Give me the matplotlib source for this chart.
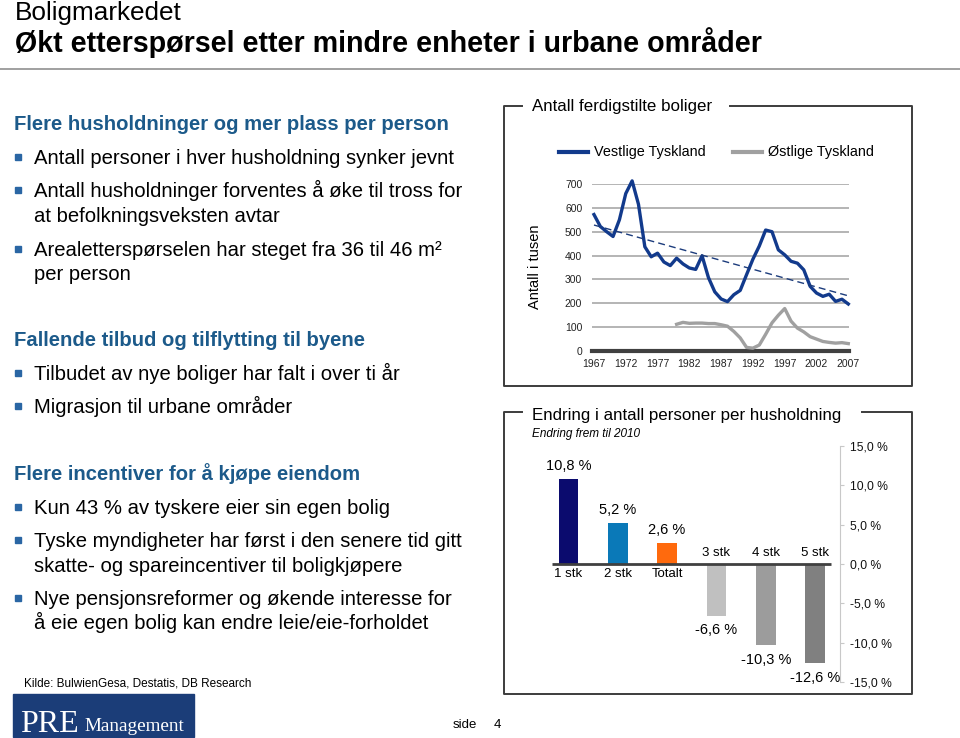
import numpy as np
import matplotlib
matplotlib.use("Agg")
import matplotlib.pyplot as plt
from matplotlib.patches import Rectangle


plt.rcParams["font.family"] = ["Liberation Sans", "DejaVu Sans"]

W, H = 960, 738

# Antall ferdigstilte boliger (i tusen)
years = list(range(1967, 2008))
vest = [572, 522, 500, 480, 550, 660, 713, 615, 437, 395,
        410, 373, 358, 389, 365, 348, 342, 399, 308, 248,
        218, 207, 236, 254, 320, 385, 440, 507, 500, 424,
        403, 376, 368, 340, 271, 243, 229, 238, 208, 217, 197]
ost_years = list(range(1980, 2008))
ost = [112, 120, 116, 117, 117, 115, 115, 110, 104, 82,
       55, 15, 12, 25, 70, 118, 150, 178, 125, 96,
       80, 60, 50, 40, 36, 33, 35, 31]
year_ticks = list(range(1967, 2008, 5))
y_ticks = list(range(0, 701, 100))

# Endring i antall personer per husholdning
hh_labels = ["1 stk", "2 stk", "Totalt", "3 stk", "4 stk", "5 stk"]
hh_change = [10.8, 5.2, 2.6, -6.6, -10.3, -12.6]
pct_ticks = [-15, -10, -5, 0, 5, 10, 15]

HEAD_BLUE = "#1c5a8a"
BULLET_BLUE = "#2a66a4"
FRAME = "#3c3c3c"
bar_colors = ["#0b0b6e", "#0a79b8", "#ff6a0d", "#c0c0c0", "#9c9c9c", "#808080"]


def frac(x0, y0, x1, y1):
    # pixel box (top-left origin) -> figure fraction rect
    return [x0 / W, 1 - y1 / H, (x1 - x0) / W, (y1 - y0) / H]


fig = plt.figure(figsize=(W / 100, H / 100), dpi=100)
bg = fig.add_axes([0, 0, 1, 1])
bg.set_xlim(0, W)
bg.set_ylim(H, 0)
bg.axis("off")

# header
bg.text(15, 20, "Boligmarkedet", fontsize=18.8, va="baseline")
bg.text(15, 52, "Økt etterspørsel etter mindre enheter i urbane områder",
        fontsize=20.6, fontweight="bold", va="baseline")
bg.plot([0, W], [69, 69], color="#909090", lw=1.2)

# left text column
left_text = [
    ("h", 130.5, "Flere husholdninger og mer plass per person"),
    ("b", 164, "Antall personer i hver husholdning synker jevnt"),
    ("b", 197, "Antall husholdninger forventes å øke til tross for"),
    ("c", 221.5, "at befolkningsveksten avtar"),
    ("b", 256, "Arealetterspørselen har steget fra 36 til 46 m²"),
    ("c", 280, "per person"),
    ("h", 346.5, "Fallende tilbud og tilflytting til byene"),
    ("b", 380, "Tilbudet av nye boliger har falt i over ti år"),
    ("b", 413, "Migrasjon til urbane områder"),
    ("h", 480.5, "Flere incentiver for å kjøpe eiendom"),
    ("b", 514, "Kun 43 % av tyskere eier sin egen bolig"),
    ("b", 547, "Tyske myndigheter har først i den senere tid gitt"),
    ("c", 571.5, "skatte- og spareincentiver til boligkjøpere"),
    ("b", 605, "Nye pensjonsreformer og økende interesse for"),
    ("c", 629, "å eie egen bolig kan endre leie/eie-forholdet"),
]
for kind, y, s in left_text:
    if kind == "h":
        bg.text(14, y, s, fontsize=14.6, fontweight="bold", color=HEAD_BLUE,
                va="baseline")
    else:
        bg.text(34, y, s, fontsize=14.6, va="baseline")
        if kind == "b":
            bg.add_patch(Rectangle((15, y - 10.5), 6, 6, color=BULLET_BLUE))

bg.text(24, 687, "Kilde: BulwienGesa, Destatis, DB Research", fontsize=8.5,
        va="baseline")

# logo
bg.add_patch(Rectangle((13.3, 694.3), 181, 42.4, color="#1b3d78"))
bg.text(20, 732, "PRE", fontsize=23, color="white", va="baseline",
        family="Liberation Serif")
bg.text(84, 731, "Management", fontsize=13.8, color="white", va="baseline",
        family="Liberation Serif")
bg.text(453, 728, "side", fontsize=9.5, va="baseline")
bg.text(494, 728, "4", fontsize=9.5, va="baseline")

# frames around the charts
bg.plot([522, 504, 504, 912, 912, 730], [105.7, 105.7, 386, 386, 105.7, 105.7],
        color=FRAME, lw=1.4)
bg.text(532, 111, "Antall ferdigstilte boliger", fontsize=12.2, va="baseline")
bg.plot([522, 504, 504, 912, 912, 862], [412, 412, 694, 694, 412, 412],
        color=FRAME, lw=1.4)
bg.text(532, 420, "Endring i antall personer per husholdning", fontsize=12.2,
        va="baseline")
bg.text(532, 437.5, "Endring frem til 2010", fontsize=8.5, style="italic",
        va="baseline")

# legend for the line chart
bg.plot([559, 588], [151.5, 151.5], color="#123a8c", lw=3)
bg.text(594, 156, "Vestlige Tyskland", fontsize=10.4, va="baseline")
bg.plot([733, 762], [151.5, 151.5], color="#a0a0a0", lw=3)
bg.text(768, 156, "Østlige Tyskland", fontsize=10.4, va="baseline")
bg.text(535, 267, "Antall i tusen", fontsize=10.5, rotation=90,
        ha="center", va="center")

# line chart
ax1 = fig.add_axes(frac(592, 184, 849, 351))
ax1.set_facecolor("none")
ax1.set_xlim(1966.69, 2007.11)
ax1.set_ylim(0, 700)
for v in y_ticks[1:]:
    ax1.axhline(v, color="#a8a8a8", lw=1.2, zorder=1)
ax1.axhline(0, color="#404040", lw=3, zorder=2, clip_on=False)
ax1.plot(years, vest, color="#123a8c", lw=2.4, zorder=4, clip_on=False,
         solid_joinstyle="round")
ax1.plot(ost_years, ost, color="#a0a0a0", lw=2.4, zorder=3, clip_on=False,
         solid_joinstyle="round")
coef = np.polyfit(years, vest, 1)
ax1.plot(years, np.polyval(coef, years), color="#1c3c7c", lw=1.0,
         dashes=(5, 3), zorder=5)
ax1.set_xticks(year_ticks)
ax1.set_yticks(y_ticks)
ax1.tick_params(length=0, labelsize=7.5, colors="#222222")
ax1.tick_params(axis="x", pad=6)
ax1.tick_params(axis="y", pad=7)
for s in ax1.spines.values():
    s.set_visible(False)

# bar chart
ax2 = fig.add_axes(frac(552, 445.7, 840, 682.3))
ax2.set_facecolor("none")
x = np.arange(len(hh_labels))
ax2.bar(x, hh_change, width=0.4, color=bar_colors, zorder=2)
ax2.set_xlim(-0.335, 5.507)
ax2.set_ylim(-15, 15)
ax2.hlines(0, -0.335, 5.32, color="#404040", lw=2, zorder=3)
for i, (lab, v) in enumerate(zip(hh_labels, hh_change)):
    txt = f"{v:.1f} %".replace(".", ",")
    if v >= 0:
        ax2.annotate(txt, (i, v), xytext=(0, 9.5), textcoords="offset points",
                     ha="center", va="center", fontsize=10.5)
        ax2.annotate(lab, (i, 0), xytext=(0, -7.5), textcoords="offset points",
                     ha="center", va="center", fontsize=9.5)
    else:
        ax2.annotate(txt, (i, v), xytext=(0, -10.3), textcoords="offset points",
                     ha="center", va="center", fontsize=10.5)
        ax2.annotate(lab, (i, 0), xytext=(0, 8), textcoords="offset points",
                     ha="center", va="center", fontsize=9.5)
ax2.set_xticks([])
ax2.set_yticks(pct_ticks)
ax2.set_yticklabels([f"{t:.1f} %".replace(".", ",") for t in pct_ticks])
ax2.yaxis.tick_right()
ax2.tick_params(axis="y", length=3, color="#c8c8c8", labelsize=8.7, pad=4,
                labelcolor="#111111")
for k in ["left", "top", "bottom"]:
    ax2.spines[k].set_visible(False)
ax2.spines["right"].set_color("#c8c8c8")

fig.savefig("out.png", dpi=100)
